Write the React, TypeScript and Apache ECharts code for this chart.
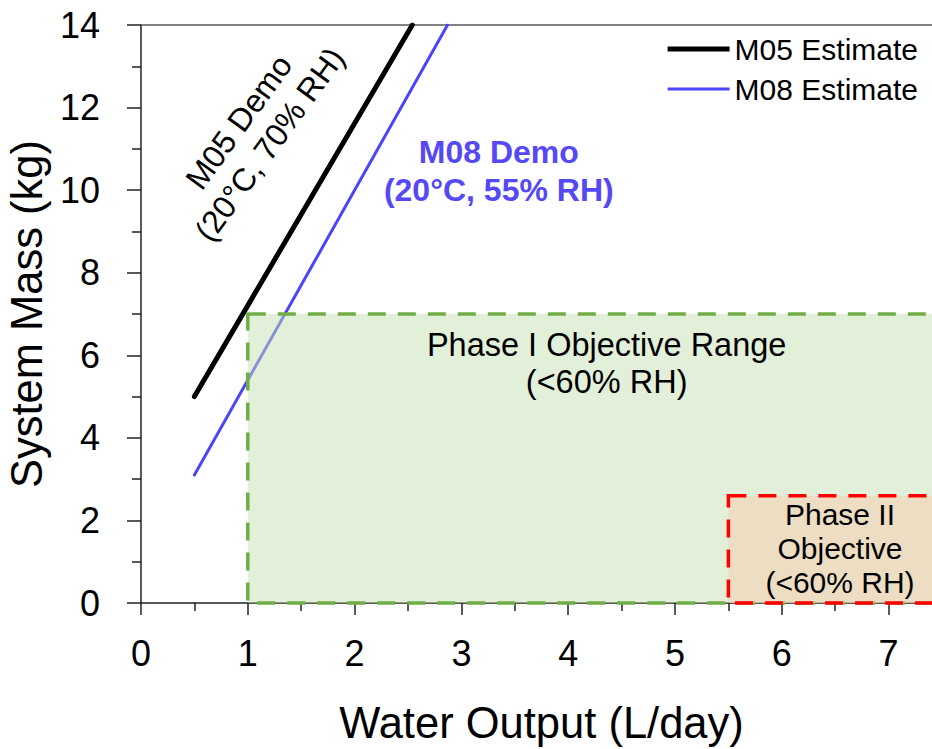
import React, { useEffect, useRef } from "react";
import * as echarts from "echarts";

// Series data (Water Output L/day, System Mass kg)
const m05Water = [0.5, 2.54];
const m05Mass = [5.0, 14.0];
const m08Water = [0.5, 2.87];
const m08Mass = [3.1, 14.0];

// Objective regions: [xMin, xMax, yMin, yMax]
const phaseOneRange = [1.0, 7.5, 0, 7.0];
const phaseTwoRange = [5.5, 7.5, 0, 2.6];

// Annotation anchors: [x, y]
const phaseOneLabelAt = [4.36, 5.81];
const phaseTwoLabelAt = [6.545, 1.31];
const m05LabelAt = [1.06, 11.38];
const m08LabelAt = [3.35, 10.46];

const FONT = "'Liberation Sans', Arial, sans-serif";

const rectRenderer =
  (fill: string, stroke: string, dash: number[]) => (params: any, api: any) => {
    const tl = api.coord([api.value(0), api.value(3)]);
    const br = api.coord([api.value(1), api.value(2)]);
    return {
      type: "rect",
      shape: { x: tl[0], y: tl[1], width: br[0] - tl[0], height: br[1] - tl[1] },
      style: { fill, stroke, lineWidth: 3.5, lineDash: dash },
    };
  };

export default function App() {
  const ref = useRef<HTMLDivElement>(null);

  useEffect(() => {
    if (!ref.current) return;
    const chart = echarts.init(ref.current, null, { renderer: "svg" });
    const zip = (a: number[], b: number[]) => a.map((v, i) => [v, b[i]]);

    const legendText = { fontSize: 30, color: "#000", fontFamily: FONT };

    const option: any = {
      animation: false,
      textStyle: { fontFamily: FONT },
      grid: {
        left: 141,
        width: 801,
        top: 25,
        height: 578,
        containLabel: false,
        outerBoundsMode: "none",
      },
      legend: [
        {
          data: ["M05 Estimate"],
          icon: "rect",
          itemWidth: 62,
          itemHeight: 5,
          right: 14,
          top: 34,
          padding: 0,
          textStyle: legendText,
          selectedMode: false,
        },
        {
          data: ["M08 Estimate"],
          icon: "rect",
          itemWidth: 62,
          itemHeight: 3,
          right: 14,
          top: 74,
          padding: 0,
          textStyle: legendText,
          selectedMode: false,
        },
      ],
      xAxis: [
        {
          type: "value",
          min: 0,
          max: 7.5,
          interval: 1,
          name: "Water Output (L/day)",
          nameLocation: "middle",
          nameGap: 98,
          nameTextStyle: { fontSize: 43.5, color: "#000", fontFamily: FONT },
          axisLine: { show: true, lineStyle: { color: "#222", width: 1.5 } },
          axisTick: { show: true, length: 12, lineStyle: { color: "#222", width: 1.5 } },
          minorTick: { show: true, splitNumber: 2, length: 8, lineStyle: { color: "#222", width: 1.5 } },
          axisLabel: { fontSize: 36, color: "#000", margin: 32, showMaxLabel: false, fontFamily: FONT },
          splitLine: { show: false },
        },
        {
          type: "value",
          position: "top",
          min: 0,
          max: 7.5,
          interval: 1,
          axisLine: { show: true, lineStyle: { color: "#595959", width: 1.5 } },
          axisTick: { show: false },
          axisLabel: { show: false },
          splitLine: { show: false },
        },
      ],
      yAxis: {
        type: "value",
        min: 0,
        max: 14,
        interval: 2,
        name: "System Mass (kg)",
        nameLocation: "middle",
        nameGap: 88,
        nameTextStyle: { fontSize: 43.5, color: "#000", fontFamily: FONT },
        axisLine: { show: true, lineStyle: { color: "#222", width: 1.5 } },
        axisTick: { show: true, length: 14, lineStyle: { color: "#222", width: 1.5 } },
        minorTick: { show: true, splitNumber: 2, length: 9, lineStyle: { color: "#222", width: 1.5 } },
        axisLabel: { fontSize: 36, color: "#000", margin: 41, fontFamily: FONT },
        splitLine: { show: false },
      },
      series: [
        {
          name: "M05 Estimate",
          type: "line",
          data: zip(m05Water, m05Mass),
          symbol: "none",
          color: "#000",
          lineStyle: { width: 5, color: "#000", cap: "round" },
          z: 2,
        },
        {
          name: "M08 Estimate",
          type: "line",
          data: zip(m08Water, m08Mass),
          symbol: "none",
          color: "#4B44FF",
          lineStyle: { width: 3, color: "#4B44FF", cap: "round" },
          z: 2,
        },
        {
          name: "Phase I",
          type: "custom",
          renderItem: rectRenderer("rgba(197,224,180,0.5)", "#70AD47", [18, 12]),
          data: [phaseOneRange],
          encode: { x: [0, 1], y: [2, 3] },
          silent: true,
          z: 3,
        },
        {
          name: "Phase II",
          type: "custom",
          renderItem: rectRenderer("rgba(248,203,173,0.5)", "#FF0000", [18, 12]),
          data: [phaseTwoRange],
          encode: { x: [0, 1], y: [2, 3] },
          silent: true,
          z: 4,
        },
        {
          name: "annotations",
          type: "scatter",
          symbolSize: 0,
          silent: true,
          z: 5,
          itemStyle: { opacity: 1 },
          label: { show: true, position: "inside", color: "#000", fontFamily: FONT },
          data: [
            {
              value: phaseOneLabelAt,
              label: { formatter: "Phase I Objective Range\n(<60% RH)", fontSize: 32.5, lineHeight: 37 },
            },
            {
              value: phaseTwoLabelAt,
              label: { formatter: "Phase II\nObjective\n(<60% RH)", fontSize: 30, lineHeight: 34 },
            },
            {
              value: m05LabelAt,
              label: { formatter: "M05 Demo\n(20°C, 70% RH)", fontSize: 32, lineHeight: 38, rotate: 54 },
            },
            {
              value: m08LabelAt,
              label: {
                formatter: "M08 Demo\n(20°C, 55% RH)",
                fontSize: 32,
                lineHeight: 38,
                fontWeight: "bold",
                color: "#5548F5",
              },
            },
          ],
        },
      ],
    };

    chart.setOption(option);
    return () => chart.dispose();
  }, []);

  return (
    <div
      ref={ref}
      style={{ position: "fixed", left: 0, top: 0, width: 932, height: 749, background: "#fff" }}
    />
  );
}
